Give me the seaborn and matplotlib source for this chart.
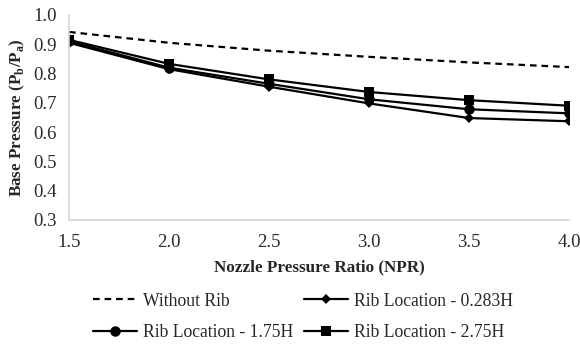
import matplotlib
matplotlib.use("Agg")
import matplotlib.pyplot as plt
from matplotlib.lines import Line2D
import seaborn as sns
import pandas as pd

npr = [1.5, 2.0, 2.5, 3.0, 3.5, 4.0]
without_rib = [0.942, 0.905, 0.878, 0.857, 0.838, 0.822]
rib_0283h = [0.905, 0.815, 0.755, 0.698, 0.648, 0.637]
rib_175h = [0.910, 0.820, 0.765, 0.712, 0.678, 0.664]
rib_275h = [0.915, 0.833, 0.780, 0.737, 0.709, 0.690]

series_names = ["Without Rib", "Rib Location - 0.283H",
                "Rib Location - 1.75H", "Rib Location - 2.75H"]
series_values = [without_rib, rib_0283h, rib_175h, rib_275h]

df = pd.DataFrame({
    "NPR": npr * len(series_names),
    "Pb": [v for s in series_values for v in s],
    "Series": [n for n in series_names for _ in npr],
})

sns.set_theme(style="white")
plt.rcParams["font.family"] = ["Liberation Serif", "DejaVu Serif"]

fig = plt.figure(figsize=(5.8, 3.48), dpi=100)
ax = fig.add_axes([0.119, 0.368, 0.862, 0.589])

dash_pat = (3, 2.2)
markers = {series_names[1]: "D", series_names[2]: "o", series_names[3]: "s"}
msizes = {"D": 5, "o": 7.5, "s": 7.5}
rib_df = df[df["Series"] != series_names[0]]
base_df = df[df["Series"] == series_names[0]]

# Reference case without rib: dashed line, no markers
sns.lineplot(data=base_df, x="NPR", y="Pb", color="black", linewidth=1.6,
             ax=ax, legend=False, dashes=False)
ax.get_lines()[-1].set_dashes(dash_pat)

# Rib cases: solid lines with markers
sns.lineplot(data=rib_df, x="NPR", y="Pb", hue="Series", style="Series",
             palette={n: "black" for n in markers}, dashes=False,
             markers=markers, linewidth=1.6, markersize=7.5, markeredgewidth=0,
             ax=ax, legend=False)

for line in ax.get_lines():
    m = line.get_marker()
    if m in msizes:
        line.set_markersize(msizes[m])

ax.set_xlim(1.5, 4.0)
ax.set_ylim(0.3, 1.0)
ax.set_xticks(npr)
ax.set_xticklabels([f"{v:.1f}" for v in npr])
yt = [0.3, 0.4, 0.5, 0.6, 0.7, 0.8, 0.9, 1.0]
ax.set_yticks(yt)
ax.set_yticklabels([f"{v:.1f}" for v in yt])
ax.tick_params(axis="both", labelsize=13.5, length=0, colors="#2a2a2a")
ax.tick_params(axis="x", pad=10)
ax.tick_params(axis="y", pad=9)

for side in ["top", "right"]:
    ax.spines[side].set_visible(False)
for side in ["left", "bottom"]:
    ax.spines[side].set_color("#d4d4d4")
    ax.spines[side].set_linewidth(1.2)

ax.set_xlabel("Nozzle Pressure Ratio (NPR)", fontsize=12.3, fontweight="bold", labelpad=6)
ax.set_ylabel(r"Base Pressure (P$_\mathregular{b}$/P$_\mathregular{a}$)",
              fontsize=12.3, fontweight="bold", labelpad=4)

handles = {series_names[0]: Line2D([0], [0], color="black", linewidth=1.6,
                                   linestyle=(0, dash_pat))}
for n in series_names[1:]:
    handles[n] = Line2D([0], [0], color="black", linewidth=1.6,
                        marker=markers[n], markersize=msizes[markers[n]],
                        markeredgewidth=0)
# two columns filled row by row
order = [series_names[0], series_names[2], series_names[1], series_names[3]]
fig.legend([handles[n] for n in order], order, loc="center",
           bbox_to_anchor=(0.522, 0.09), ncol=2, frameon=False, fontsize=12.7,
           handlelength=2.5, columnspacing=0.6, labelspacing=0.8,
           handletextpad=0.35)

fig.savefig("out.png", dpi=100, facecolor="white")
